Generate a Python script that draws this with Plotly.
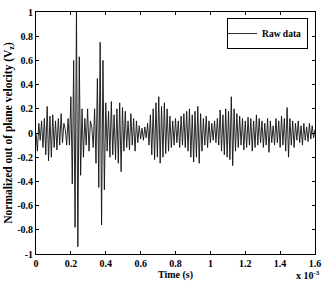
import plotly.graph_objects as go

# sampling interval of the read-off zigzag (in units of 1e-3 s)
dt_ms = 0.008

velocity = [
    0.0, -0.15, 0.08, -0.06, 0.1, -0.12, 0.12, -0.18, 0.22, -0.23,
    0.14, -0.2, 0.15, -0.12, 0.1, -0.14, 0.12, -0.1, 0.16, -0.08,
    0.08, 0.03, -0.1, 0.12, -0.1, 0.3, -0.42, 0.6, -0.78, 1.0,
    -0.94, 0.63, -0.35, 0.2, -0.2, 0.12, -0.1, 0.2, -0.15, 0.1,
    0.05, -0.12, 0.2, -0.25, 0.45, -0.45, 0.75, -0.76, 0.6, -0.47,
    0.25, -0.15, 0.18, -0.2, 0.26, -0.18, 0.15, -0.22, 0.2, -0.25,
    0.25, -0.32, 0.21, -0.15, 0.18, -0.12, 0.1, -0.14, 0.16, -0.1,
    0.12, -0.15, 0.1, -0.08, 0.06, -0.05, 0.04, -0.06, 0.05, -0.04,
    0.08, -0.1, 0.15, -0.18, 0.2, -0.22, 0.25, -0.2, 0.3, -0.25,
    0.22, -0.2, 0.25, -0.17, 0.2, -0.15, 0.14, -0.12, 0.1, -0.1,
    0.12, -0.08, 0.1, -0.12, 0.14, -0.1, 0.16, -0.12, 0.18, -0.15,
    0.2, -0.2, 0.15, -0.24, 0.18, -0.2, 0.22, -0.25, 0.16, -0.15,
    0.12, -0.1, 0.14, -0.12, 0.1, -0.08, 0.08, -0.06, 0.1, -0.08,
    0.12, -0.1, 0.19, -0.15, 0.15, -0.18, 0.2, -0.2, 0.18, -0.22,
    0.3, -0.27, 0.2, -0.15, 0.16, -0.12, 0.14, -0.1, 0.12, -0.14,
    0.1, -0.12, 0.13, -0.1, 0.12, -0.15, 0.1, -0.12, 0.15, -0.1,
    0.12, -0.08, 0.1, -0.12, 0.08, -0.1, 0.12, -0.16, 0.1, -0.08,
    0.06, -0.1, 0.12, -0.08, 0.1, -0.12, 0.14, -0.1, 0.12, -0.15,
    0.21, -0.2, 0.12, -0.1, 0.1, -0.12, 0.08, -0.06, 0.1, -0.08,
    0.06, -0.1, 0.08, -0.06, 0.05, -0.07, 0.08, -0.05, 0.06, -0.04,
    0.03,
]
time_ms = [i * dt_ms for i in range(len(velocity))]

x_ticks = [0, 0.2, 0.4, 0.6, 0.8, 1.0, 1.2, 1.4, 1.6]
x_tick_labels = ["0", "0.2", "0.4", "0.6", "0.8", "1", "1.2", "1.4", "1.6"]
y_ticks = [-1, -0.8, -0.6, -0.4, -0.2, 0, 0.2, 0.4, 0.6, 0.8, 1]
y_tick_labels = ["-1", "-0.8", "-0.6", "-0.4", "-0.2", "0", "0.2", "0.4", "0.6", "0.8", "1"]

font_fam = "Liberation Serif, Times New Roman, serif"

fig = go.Figure()
fig.add_trace(go.Scatter(
    x=time_ms, y=velocity, mode="lines", name="<b>Raw data</b>",
    line=dict(color="#111111", width=0.9),
))

axis_common = dict(
    showgrid=False, zeroline=False, showline=True, linecolor="black", linewidth=1,
    mirror="ticks", ticks="inside", ticklen=3, tickcolor="black",
    tickfont=dict(family=font_fam, size=10, color="black", weight="bold"),
)
fig.update_xaxes(range=[0, 1.6], tickvals=x_ticks, ticktext=x_tick_labels,
                 title=dict(text="<b>Time (s)</b>", font=dict(family=font_fam, size=10, color="black"), standoff=1),
                 **axis_common)
fig.update_yaxes(range=[-1, 1], tickvals=y_ticks, ticktext=y_tick_labels,
                 title=dict(text="<b>Normalized out of plane velocity (V<sub>z</sub>)</b>",
                            font=dict(family=font_fam, size=11.5, color="black"), standoff=2),
                 **axis_common)

fig.add_annotation(x=1.0, y=0, xref="paper", yref="paper", xanchor="right", yanchor="top",
                   yshift=-13, xshift=7, showarrow=False,
                   text="<b>x 10<sup>-3</sup></b>", font=dict(family=font_fam, size=10, color="black"))

fig.update_layout(
    width=327, height=283,
    margin=dict(l=36, r=7, t=6, b=26),
    paper_bgcolor="white", plot_bgcolor="white",
    showlegend=True,
    legend=dict(x=0.975, y=0.975, xanchor="right", yanchor="top",
                bordercolor="black", borderwidth=1, bgcolor="white",
                font=dict(family=font_fam, size=9.5, color="black"),
                itemwidth=30, tracegroupgap=0, indentation=-6),
)

fig.write_html("out.html")
